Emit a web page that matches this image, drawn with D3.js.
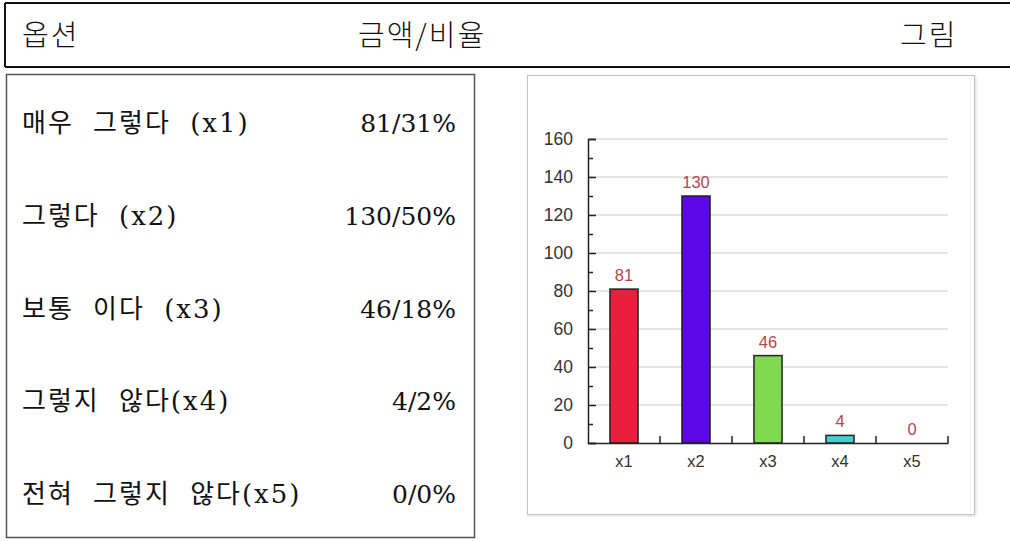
<!DOCTYPE html>
<html>
<head>
<meta charset="utf-8">
<script src="https://cdn.jsdelivr.net/npm/d3@7"></script>
<style>
  html, body { margin: 0; padding: 0; background: #fff; }
  svg { display: block; }
</style>
</head>
<body>
<div id="chart"></div>
<script>
// header / table text
const headers = ["옵션", "금액/비율", "그림"];
const optionLabels = ["매우 그렇다 (x1)", "그렇다 (x2)", "보통 이다 (x3)", "그렇지 않다(x4)", "전혀 그렇지 않다(x5)"];
// bar chart values
const categories = ["x1", "x2", "x3", "x4", "x5"];
const counts = [81, 130, 46, 4, 0];
const percents = [31, 50, 18, 2, 0];
const barColors = ["#ea1f3d", "#5c07e6", "#7fda52", "#43d0d2", "#cccccc"];
const yTicks = [0, 20, 40, 60, 80, 100, 120, 140, 160];

const width = 1010, height = 541;

const svg = d3.select("#chart").append("svg")
    .attr("width", width)
    .attr("height", height);

// ---- header strip ----
const head = svg.append("g");
head.append("line").attr("x1", 5).attr("x2", width).attr("y1", 3).attr("y2", 3)
    .attr("stroke", "#111").attr("stroke-width", 2);
head.append("line").attr("x1", 5).attr("x2", width).attr("y1", 67).attr("y2", 67)
    .attr("stroke", "#111").attr("stroke-width", 2);
head.append("line").attr("x1", 5).attr("x2", 5).attr("y1", 3).attr("y2", 67)
    .attr("stroke", "#111").attr("stroke-width", 2);

const headX = [22, 358, 900];
head.selectAll("text.head")
    .data(headers)
    .enter().append("text")
    .attr("class", "head")
    .attr("x", (d, i) => headX[i])
    .attr("y", 46)
    .attr("font-family", "'Noto Sans CJK KR', sans-serif")
    .attr("font-weight", 300)
    .attr("font-size", 29)
    .attr("letter-spacing", 2)
    .attr("fill", "#111")
    .text(d => d);

// ---- left table box ----
const table = svg.append("g");
table.append("rect")
    .attr("x", 6.5).attr("y", 74.5)
    .attr("width", 468).attr("height", 463)
    .attr("fill", "#fff")
    .attr("stroke", "#555").attr("stroke-width", 1.5);

const rowY = d3.scalePoint()
    .domain(optionLabels)
    .range([132, 503]);

table.selectAll("text.opt")
    .data(optionLabels)
    .enter().append("text")
    .attr("class", "opt")
    .attr("x", 22)
    .attr("y", d => rowY(d))
    .attr("font-family", "'DejaVu Serif', 'Noto Sans CJK KR', serif")
    .attr("font-size", 26)
    .attr("letter-spacing", 2)
    .attr("word-spacing", 9)
    .attr("fill", "#111")
    .text(d => d);

table.selectAll("text.val")
    .data(optionLabels)
    .enter().append("text")
    .attr("class", "val")
    .attr("x", 456)
    .attr("y", d => rowY(d))
    .attr("text-anchor", "end")
    .attr("font-family", "'DejaVu Serif', serif")
    .attr("font-size", 25)
    .attr("fill", "#111")
    .text((d, i) => counts[i] + "/" + percents[i] + "%");

// ---- bar chart panel ----
const defs = svg.append("defs");
const shadow = defs.append("filter").attr("id", "shadow")
    .attr("x", "-5%").attr("y", "-5%").attr("width", "110%").attr("height", "110%");
shadow.append("feDropShadow").attr("dx", 1).attr("dy", 1).attr("stdDeviation", 1.5)
    .attr("flood-color", "#000").attr("flood-opacity", 0.15);

svg.append("rect")
    .attr("x", 527.5).attr("y", 75.5)
    .attr("width", 447).attr("height", 439)
    .attr("fill", "#fff")
    .attr("stroke", "#c4c4c4").attr("stroke-width", 1)
    .attr("filter", "url(#shadow)");

const plot = { left: 588, right: 948, top: 139, bottom: 443 };

const y = d3.scaleLinear()
    .domain([0, 160])
    .range([plot.bottom, plot.top]);

const xCat = d3.scaleBand()
    .domain(categories)
    .range([plot.left, plot.right])
    .padding(0);

const xBar = d3.scaleBand()
    .domain(categories)
    .range([plot.left, plot.right])
    .paddingInner(0.61)
    .paddingOuter(0.305);

// gridlines
svg.append("g")
    .selectAll("line")
    .data(yTicks.filter(t => t > 0))
    .enter().append("line")
    .attr("x1", plot.left).attr("x2", plot.right)
    .attr("y1", d => y(d)).attr("y2", d => y(d))
    .attr("stroke", "#dedede").attr("stroke-width", 1.5);

// bars
svg.append("g")
    .selectAll("rect")
    .data(categories)
    .enter().append("rect")
    .attr("x", d => xBar(d))
    .attr("y", (d, i) => y(counts[i]))
    .attr("width", xBar.bandwidth())
    .attr("height", (d, i) => y(0) - y(counts[i]))
    .attr("fill", (d, i) => barColors[i])
    .attr("stroke", "#222")
    .attr("stroke-width", (d, i) => counts[i] > 0 ? 1.5 : 0);

// value labels
svg.append("g")
    .selectAll("text")
    .data(categories)
    .enter().append("text")
    .attr("x", d => xBar(d) + xBar.bandwidth() / 2)
    .attr("y", (d, i) => y(counts[i]) - 8)
    .attr("text-anchor", "middle")
    .attr("font-family", "'Liberation Sans', Arial, sans-serif")
    .attr("font-size", 16.5)
    .attr("fill", "#b2474f")
    .text((d, i) => counts[i]);

// y axis: major ticks inward
const yAxis = d3.axisLeft(y)
    .tickValues(yTicks)
    .tickSize(-8)
    .tickPadding(15);

const gy = svg.append("g")
    .attr("transform", "translate(" + plot.left + ",0)")
    .call(yAxis);
gy.select(".domain").attr("stroke", "#222").attr("stroke-width", 1.5);
gy.selectAll(".tick line").attr("stroke", "#222").attr("stroke-width", 1.5);
gy.selectAll(".tick text")
    .attr("font-family", "'Liberation Sans', Arial, sans-serif")
    .attr("font-size", 17.5)
    .attr("fill", "#333");

// minor ticks
const gyMinor = svg.append("g")
    .attr("transform", "translate(" + plot.left + ",0)")
    .call(d3.axisLeft(y)
        .tickValues(d3.range(10, 160, 20))
        .tickSize(-5)
        .tickFormat(""));
gyMinor.select(".domain").remove();
gyMinor.selectAll(".tick line").attr("stroke", "#222").attr("stroke-width", 1.5);

// x axis
const xAxis = d3.axisBottom(xCat)
    .tickSize(0)
    .tickPadding(12);
const gx = svg.append("g")
    .attr("transform", "translate(0," + plot.bottom + ")")
    .call(xAxis);
gx.select(".domain").attr("stroke", "#222").attr("stroke-width", 1.5);
gx.selectAll(".tick text")
    .attr("font-family", "'Liberation Sans', Arial, sans-serif")
    .attr("font-size", 16.5)
    .attr("fill", "#333");

// category boundary ticks (pointing up)
gx.append("g")
    .selectAll("line")
    .data(categories)
    .enter().append("line")
    .attr("x1", d => xCat(d) + xCat.bandwidth())
    .attr("x2", d => xCat(d) + xCat.bandwidth())
    .attr("y1", 0).attr("y2", -7)
    .attr("stroke", "#222").attr("stroke-width", 1.5);
</script>
</body>
</html>
